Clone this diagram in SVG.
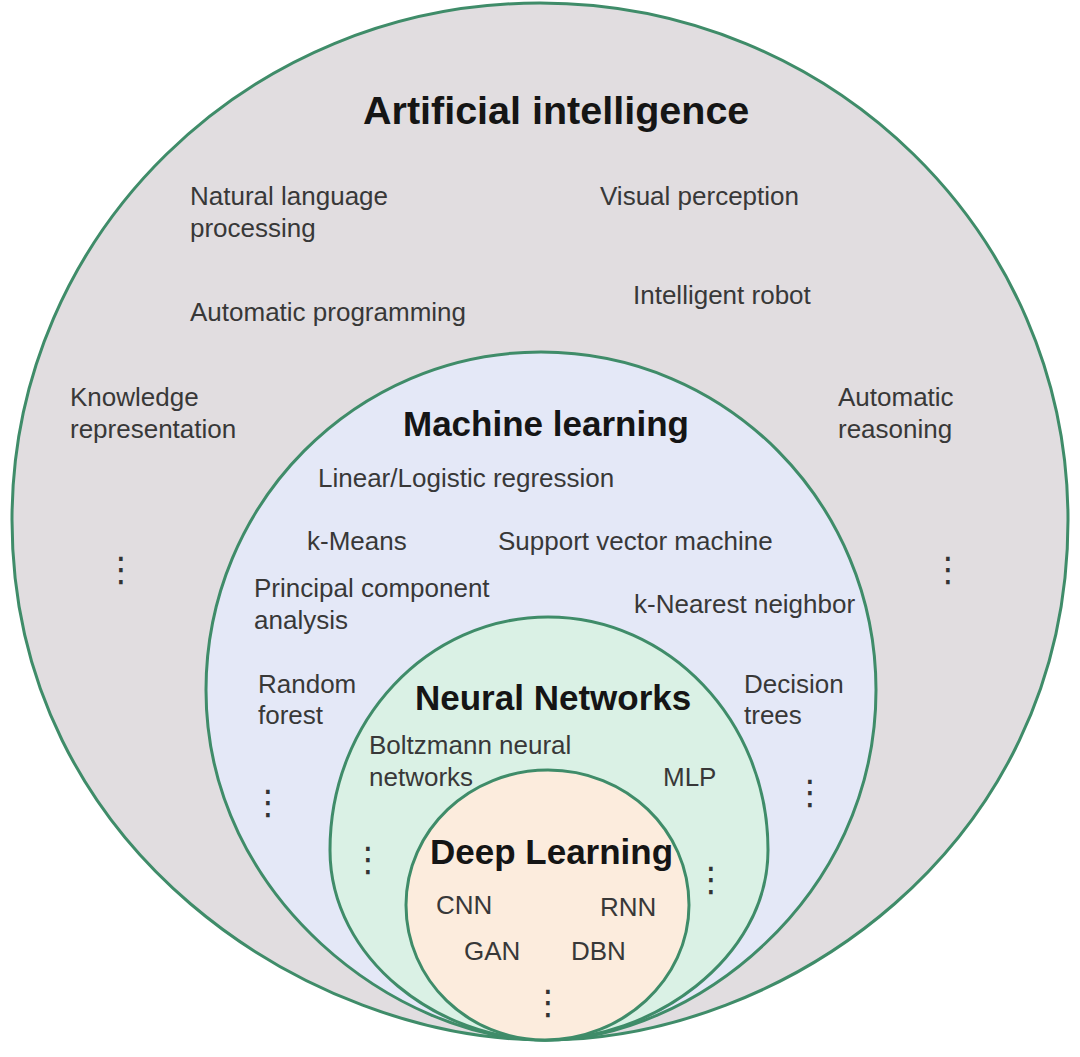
<svg xmlns="http://www.w3.org/2000/svg" width="1080" height="1057" viewBox="0 0 1080 1057">
<style>
  .ring { stroke: #3f8c69; stroke-width: 3; }
  .ai { fill: #e1dde0; }
  .ml { fill: #e4e8f7; }
  .nn { fill: #daf1e5; }
  .dl { fill: #fcecdd; }
  text { font-family: "Liberation Sans", Arial, sans-serif; }
  .title { font-weight: bold; fill: #151515; font-size: 35px; }
  .item { fill: #383838; font-size: 26px; }
  .dots { fill: #333333; font-family: "DejaVu Sans", sans-serif; font-size: 34px; text-anchor: middle; }
</style>
<rect width="1080" height="1057" fill="#ffffff"/>

<g id="ai">
  <path class="ring ai" d="M545,1040 C310,1040 12,850 12,520 C12,234 248,3 540,3 C832,3 1068,234 1068,520 C1068,850 780,1040 545,1040 Z"/>
  <text class="title" x="363" y="124" style="font-size:39.5px">Artificial intelligence</text>
  <text class="item" x="190" y="205">Natural language</text>
  <text class="item" x="190" y="237">processing</text>
  <text class="item" x="600" y="205">Visual perception</text>
  <text class="item" x="190" y="321">Automatic programming</text>
  <text class="item" x="633" y="304">Intelligent robot</text>
  <text class="item" x="70" y="406">Knowledge</text>
  <text class="item" x="70" y="438">representation</text>
  <text class="item" x="838" y="406">Automatic</text>
  <text class="item" x="838" y="438">reasoning</text>
  <text class="dots" x="121" y="581">⋮</text>
  <text class="dots" x="948" y="581">⋮</text>
</g>

<g id="ml">
  <path class="ring ml" d="M545,1040 C400,1040 206,900 206,690 C206,503 356,352 541,352 C726,352 876,503 876,690 C876,900 690,1040 545,1040 Z"/>
  <text class="title" x="403" y="436">Machine learning</text>
  <text class="item" x="318" y="487">Linear/Logistic regression</text>
  <text class="item" x="307" y="550">k-Means</text>
  <text class="item" x="498" y="550">Support vector machine</text>
  <text class="item" x="254" y="597">Principal component</text>
  <text class="item" x="254" y="629">analysis</text>
  <text class="item" x="634" y="613">k-Nearest neighbor</text>
  <text class="item" x="258" y="693">Random</text>
  <text class="item" x="258" y="724">forest</text>
  <text class="item" x="744" y="693">Decision</text>
  <text class="item" x="744" y="724">trees</text>
  <text class="dots" x="268" y="814">⋮</text>
  <text class="dots" x="810" y="804">⋮</text>
</g>

<g id="nn">
  <path class="ring nn" d="M545,1040 C440,1040 330,960 330,850 C330,720 428,617 548,617 C668,617 768,720 768,850 C768,960 650,1040 545,1040 Z"/>
  <text class="title" x="415" y="710">Neural Networks</text>
  <text class="item" x="369" y="754">Boltzmann neural</text>
  <text class="item" x="369" y="786">networks</text>
  <text class="item" x="663" y="786">MLP</text>
  <text class="dots" x="368" y="871">⋮</text>
  <text class="dots" x="711" y="891">⋮</text>
</g>

<g id="dl">
  <path class="ring dl" d="M545,1040 C468,1040 406,980 406,905 C406,830 470,770 548,770 C626,770 689,830 689,905 C689,980 622,1040 545,1040 Z"/>
  <text class="title" x="430" y="864">Deep Learning</text>
  <text class="item" x="436" y="914">CNN</text>
  <text class="item" x="600" y="916">RNN</text>
  <text class="item" x="464" y="960">GAN</text>
  <text class="item" x="571" y="960">DBN</text>
  <text class="dots" x="548" y="1014">⋮</text>
</g>
</svg>
